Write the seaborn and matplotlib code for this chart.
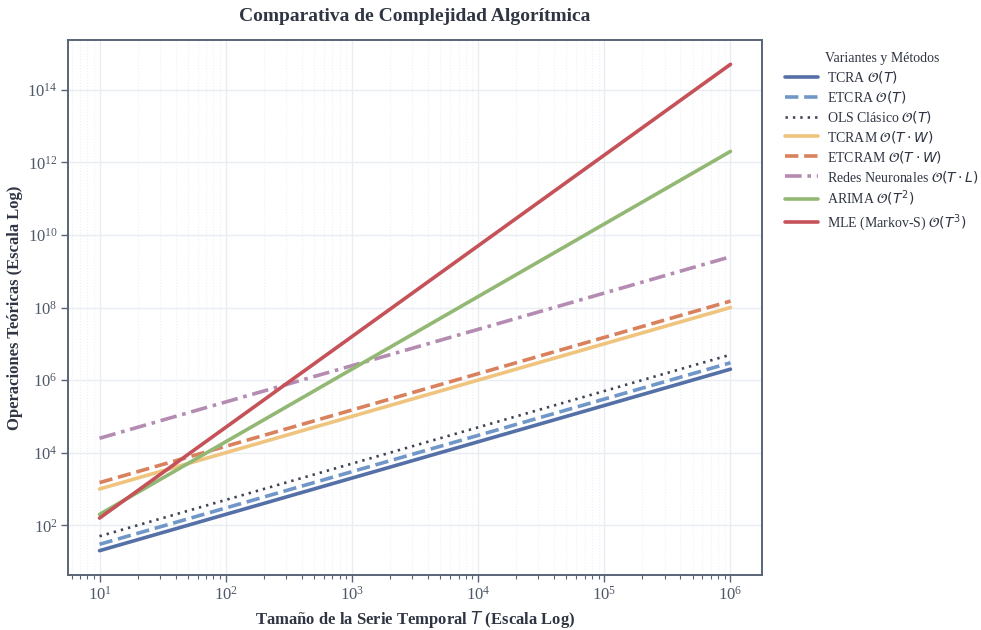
import matplotlib
matplotlib.use("Agg")
import matplotlib.pyplot as plt
import seaborn as sns
import pandas as pd
from matplotlib.ticker import LogLocator, NullFormatter

# Series length values (x axis)
T = [1e1, 1e2, 1e3, 1e4, 1e5, 1e6]

# Theoretical operation counts for each method
tcra = [2e1, 2e2, 2e3, 2e4, 2e5, 2e6]
etcra = [3e1, 3e2, 3e3, 3e4, 3e5, 3e6]
ols = [5e1, 5e2, 5e3, 5e4, 5e5, 5e6]
tcram = [1e3, 1e4, 1e5, 1e6, 1e7, 1e8]
etcram = [1.5e3, 1.5e4, 1.5e5, 1.5e6, 1.5e7, 1.5e8]
redes = [2.5e4, 2.5e5, 2.5e6, 2.5e7, 2.5e8, 2.5e9]
arima = [2e2, 2e4, 2e6, 2e8, 2e10, 2e12]
mle = [1.58e2, 5e4, 1.58e7, 5e9, 1.58e12, 5e14]

labels = [
    r"TCRA $\mathcal{O}(T)$",
    r"ETCRA $\mathcal{O}(T)$",
    r"OLS Clásico $\mathcal{O}(T)$",
    r"TCRAM $\mathcal{O}(T \cdot W)$",
    r"ETCRAM $\mathcal{O}(T \cdot W)$",
    r"Redes Neuronales $\mathcal{O}(T \cdot L)$",
    r"ARIMA $\mathcal{O}(T^2)$",
    r"MLE (Markov-S) $\mathcal{O}(T^3)$",
]
series = [tcra, etcra, ols, tcram, etcram, redes, arima, mle]
colors = ["#5470a6", "#7097c8", "#3f4452", "#efc47e", "#d8815c",
          "#b48bb1", "#92b874", "#c45258"]
styles = ["-", (0, (3.7, 1.6)), (0, (0.9, 1.9)), "-", (0, (3.7, 1.6)),
          (0, (4.6, 1.6, 1.0, 1.6)), "-", "-"]
widths = [2.6, 2.6, 1.9, 2.6, 2.6, 2.6, 2.6, 2.6]

sns.set_theme(style="whitegrid")
plt.rcParams["font.family"] = ["Liberation Serif", "DejaVu Serif"]
plt.rcParams["mathtext.fontset"] = "dejavusans"

fig = plt.figure(figsize=(9.81, 6.3), dpi=100)
ax = fig.add_axes([0.0693, 0.0873, 0.7075, 0.8492])

for vals, lab, col, ls, lw in zip(series, labels, colors, styles, widths):
    df = pd.DataFrame({"T": T, "ops": vals})
    sns.lineplot(data=df, x="T", y="ops", ax=ax, color=col, linestyle=ls,
                 linewidth=lw, label=lab)

ax.set_xscale("log")
ax.set_yscale("log")

ax.xaxis.set_major_locator(LogLocator(base=10, numticks=20))
ax.xaxis.set_minor_locator(LogLocator(base=10, subs=range(2, 10), numticks=100))
ax.xaxis.set_minor_formatter(NullFormatter())
ax.yaxis.set_major_locator(LogLocator(base=10, numticks=9))
ax.yaxis.set_minor_locator(LogLocator(base=10, subs=(1.0,), numticks=30))
ax.yaxis.set_minor_formatter(NullFormatter())

ax.set_facecolor("white")
ax.grid(True, which="major", color="#e9edf2", linewidth=1.0, linestyle="-")
ax.grid(True, which="minor", axis="x", color="#eef1f5", linewidth=0.8, linestyle=":")
ax.grid(False, which="minor", axis="y")

spine_col = "#5a6478"
for s in ax.spines.values():
    s.set_color(spine_col)
    s.set_linewidth(1.4)

ax.tick_params(axis="both", which="major", direction="out", length=5, width=1.0,
               color=spine_col, labelsize=12, labelcolor="#4f5868",
               bottom=True, left=True, pad=2.5)
ax.tick_params(axis="x", which="minor", direction="out", length=3, width=0.8,
               color=spine_col, bottom=True)
ax.tick_params(axis="y", which="minor", left=False)

ax.set_xlabel(r"Tamaño de la Serie Temporal $T$ (Escala Log)", fontsize=12,
              fontweight="bold", color="#2f3542", labelpad=4)
ax.set_ylabel("Operaciones Teóricas (Escala Log)", fontsize=12,
              fontweight="bold", color="#2f3542", labelpad=3)
ax.set_title("Comparativa de Complejidad Algorítmica", fontsize=14,
             fontweight="bold", color="#2f3542", pad=14)

leg = ax.legend(title="Variantes y Métodos", loc="upper left",
                bbox_to_anchor=(1.027, 0.985), frameon=False, fontsize=10,
                title_fontsize=10, handlelength=2.4, handletextpad=0.6,
                labelspacing=0.28, borderaxespad=0.0, borderpad=0.3)
for txt in leg.get_texts():
    txt.set_color("#2f3542")
leg.get_title().set_color("#2f3542")

fig.savefig("out.png", dpi=100)
